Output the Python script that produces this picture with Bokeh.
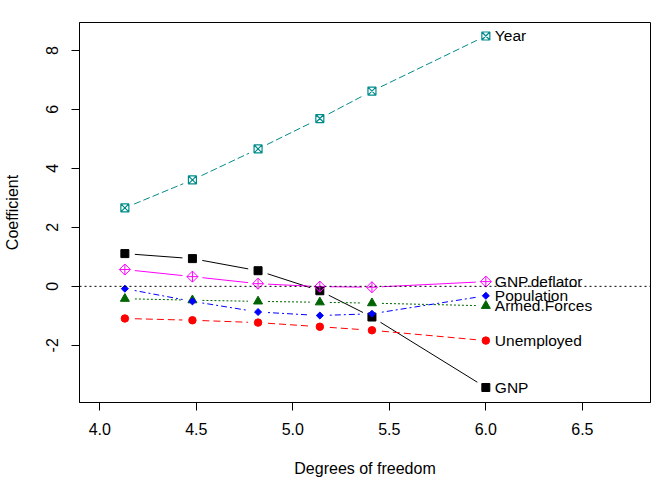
import numpy as np
from bokeh.plotting import figure
from bokeh.models import Range1d, FixedTicker, PrintfTickFormatter, Span, ColumnDataSource
from bokeh.core.properties import value
from bokeh.embed import file_html
from bokeh.resources import INLINE

# ---- data ----
df = [4.13, 4.48, 4.82, 5.14, 5.41, 6.0]
gnp = [1.11, 0.94, 0.53, -0.15, -1.04, -3.43]
unemployed = [-1.09, -1.15, -1.23, -1.37, -1.49, -1.84]
armed_forces = [-0.42, -0.47, -0.51, -0.54, -0.57, -0.66]
population = [-0.08, -0.51, -0.87, -0.99, -0.93, -0.32]
year = [2.66, 3.61, 4.66, 5.69, 6.62, 8.49]
gnp_deflator = [0.57, 0.33, 0.09, -0.01, -0.03, 0.16]
series_names = ["GNP", "Unemployed", "Armed.Forces", "Population", "Year", "GNP.deflator"]
x_ticks = [4.0, 4.5, 5.0, 5.5, 6.0, 6.5]
y_ticks = [-2, 0, 2, 4, 6, 8]

FONT = "Liberation Sans"
XR = (3.895, 6.853)
YR = (-3.939, 8.947)
FW, FH = 571, 380

p = figure(frame_width=FW, frame_height=FH,
           x_range=Range1d(*XR), y_range=Range1d(*YR),
           output_backend="svg", toolbar_location=None,
           min_border_left=79, min_border_right=14, min_border_top=22, min_border_bottom=76)
p.xgrid.visible = False
p.ygrid.visible = False
p.background_fill_color = "white"
p.border_fill_color = "white"
p.outline_line_color = "black"
p.outline_line_width = 1

for ax in (p.xaxis[0], p.yaxis[0]):
    ax.axis_line_color = "black"
    ax.major_tick_line_color = "black"
    ax.minor_tick_line_color = None
    ax.major_tick_in = 0
    ax.major_tick_out = 8
    ax.major_label_text_font = FONT
    ax.major_label_text_font_size = "16px"
    ax.major_label_text_color = "black"
    ax.axis_label_text_font = FONT
    ax.axis_label_text_font_size = "16px"
    ax.axis_label_text_font_style = "normal"
    ax.axis_label_text_color = "black"

p.xaxis.ticker = FixedTicker(ticks=x_ticks)
p.xaxis.formatter = PrintfTickFormatter(format="%.1f")
p.xaxis.major_label_standoff = 12
p.xaxis.axis_label = "Degrees of freedom"
p.xaxis.axis_label_standoff = 22

p.yaxis.ticker = FixedTicker(ticks=y_ticks)
p.yaxis.major_label_overrides = {t: str(t) for t in y_ticks}
p.yaxis.major_label_orientation = "vertical"
p.yaxis.major_label_standoff = 13
p.yaxis.axis_label = "Coefficient"
p.yaxis.axis_label_standoff = 23

# zero line
p.add_layout(Span(location=0, dimension="width", line_color="black",
                  line_dash="2 3", line_width=1))

sx = FW / (XR[1] - XR[0])
sy = FH / (YR[1] - YR[0])
GAP = 10.0

def gapped_segments(xs, ys):
    xs = np.asarray(xs, float); ys = np.asarray(ys, float)
    x0, y0, x1, y1 = [], [], [], []
    for i in range(len(xs) - 1):
        dx = (xs[i+1] - xs[i]) * sx
        dy = (ys[i+1] - ys[i]) * sy
        L = np.hypot(dx, dy)
        if L <= 2 * GAP:
            continue
        fx = GAP / L
        x0.append(xs[i] + (xs[i+1] - xs[i]) * fx)
        y0.append(ys[i] + (ys[i+1] - ys[i]) * fx)
        x1.append(xs[i+1] - (xs[i+1] - xs[i]) * fx)
        y1.append(ys[i+1] - (ys[i+1] - ys[i]) * fx)
    return dict(x0=x0, y0=y0, x1=x1, y1=y1)

styles = [
    (gnp, "black", "solid"),
    (unemployed, "#FF0000", "7 4"),
    (armed_forces, "#006400", "2 2"),
    (population, "#0000FF", "2 3 6 3"),
    (year, "#008B8B", "7 3"),
    (gnp_deflator, "#FF00FF", "solid"),
]
for ys, col, dash in styles:
    src = ColumnDataSource(gapped_segments(df, ys))
    p.segment(x0="x0", y0="y0", x1="x1", y1="y1", source=src,
              line_color=col, line_width=1, line_dash=dash)

# markers
p.scatter(df, gnp, marker="square", size=8, fill_color="black", line_color="black")
p.scatter(df, unemployed, marker="circle", size=7.5, fill_color="#FF0000", line_color="#FF0000")
p.scatter(df, armed_forces, marker="triangle", size=9, fill_color="#006400", line_color="#006400")
p.scatter(df, population, marker="square", angle=np.pi / 4, size=5,
          fill_color="#0000FF", line_color="#0000FF")
p.scatter(df, year, marker="square_x", size=8, fill_color=None, line_color="#008B8B", line_width=1.2)
p.scatter(df, gnp_deflator, marker="square", angle=np.pi / 4, size=7.8,
          fill_color=None, line_color="#FF00FF", line_width=1)
p.scatter(df, gnp_deflator, marker="cross", size=11, line_color="#FF00FF", line_width=1)

# series labels at the last point
last_x = [df[-1]] * 6
last_y = [gnp[-1], unemployed[-1], armed_forces[-1], population[-1], year[-1], gnp_deflator[-1]]
p.text(x=last_x, y=last_y, text=series_names, x_offset=9,
       text_align="left", text_baseline="middle",
       text_font=value(FONT), text_font_size="15.5px", text_color="black")

open("out.html", "w").write(file_html(p, INLINE))
